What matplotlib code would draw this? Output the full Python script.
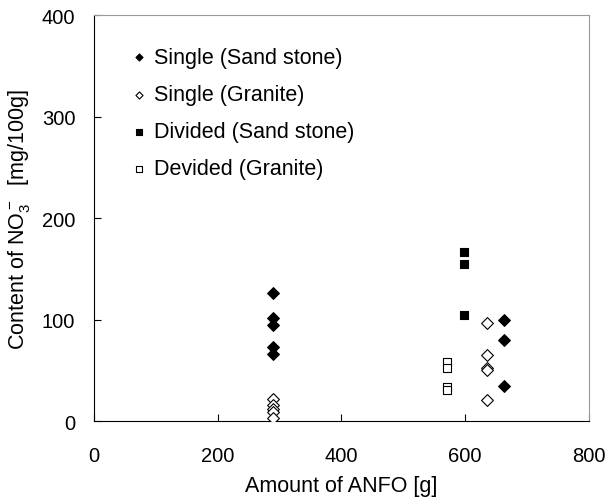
import numpy as np
import matplotlib
matplotlib.use("Agg")
import matplotlib.pyplot as plt

plt.rcParams['font.family'] = ['Liberation Sans', 'DejaVu Sans']
plt.rcParams['mathtext.default'] = 'regular'

# Single blasting, sand stone
ss_x = [290, 290, 290, 290, 290, 663, 663, 663]
ss_y = [126, 102, 95, 73, 66, 100, 80, 35]
# Single blasting, granite
sg_x = [290, 290, 290, 290, 290, 635, 635, 635, 635, 635]
sg_y = [22, 16, 12, 9, 3, 97, 65, 52, 50, 21]
# Divided blasting, sand stone
ds_x = [598, 598, 598]
ds_y = [167, 155, 105]
# Divided blasting, granite
dg_x = [571, 571, 571, 571]
dg_y = [58, 52, 34, 31]

fig = plt.figure(figsize=(6.07, 5.02), dpi=100)
ax = fig.add_axes([0.155, 0.159, 0.815, 0.809])

ax.scatter(ss_x, ss_y, marker='D', s=36, c='black', linewidths=0.8, edgecolors='black',
           label='Single (Sand stone)', zorder=3)
ax.scatter(sg_x, sg_y, marker='D', s=36, facecolors='white', edgecolors='black', linewidths=0.8,
           label='Single (Granite)', zorder=3)
ax.scatter(ds_x, ds_y, marker='s', s=38, c='black', linewidths=0.8, edgecolors='black',
           label='Divided (Sand stone)', zorder=3)
ax.scatter(dg_x, dg_y, marker='s', s=38, facecolors='white', edgecolors='black', linewidths=0.8,
           label='Devided (Granite)', zorder=3)

ax.set_xlim(0, 800)
ax.set_ylim(0, 400)
ax.set_xticks([0, 200, 400, 600, 800])
ax.set_yticks([0, 100, 200, 300, 400])
ax.tick_params(direction='in', length=5, labelsize=14.5)
ax.tick_params(axis='x', pad=18)
ax.tick_params(axis='y', pad=13.5)
for s in ['top', 'right']:
    ax.spines[s].set_color('#999999')

ax.set_xlabel('Amount of ANFO [g]', fontsize=15.5, labelpad=7)
ax.set_ylabel(r'Content of NO$_3^-$  [mg/100g]', fontsize=15.5, labelpad=7)

leg = ax.legend(loc='upper left', bbox_to_anchor=(0.034, 0.969), frameon=False, fontsize=15.5,
                markerscale=0.6, handletextpad=0.3, labelspacing=0.75, handlelength=0.8)

fig.savefig('out.png', dpi=100)
